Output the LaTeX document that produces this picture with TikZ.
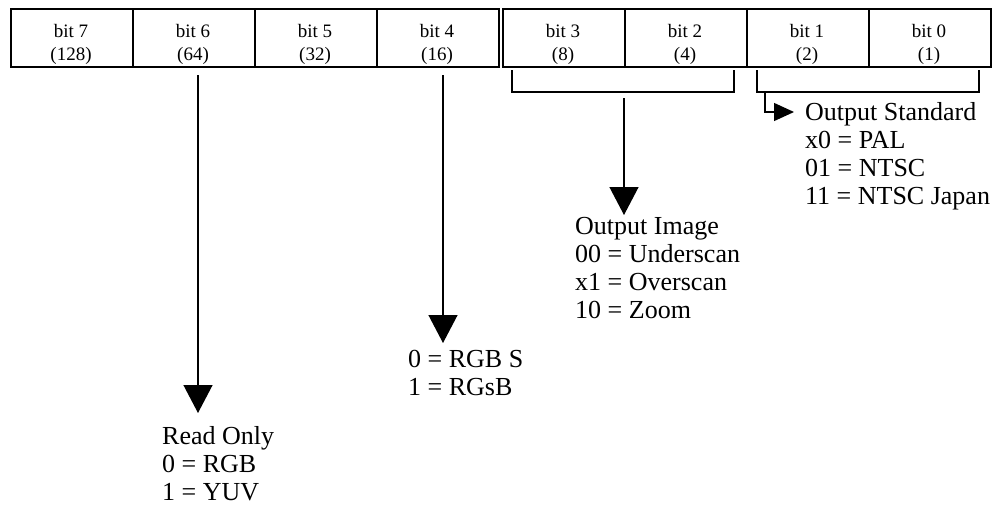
\documentclass[tikz,border=0pt]{standalone}
\usepackage{fontspec}
\setmainfont{Liberation Serif}
\usetikzlibrary{arrows.meta}
\begin{document}
\begin{tikzpicture}[x=1pt,y=-1pt,
  cellbox/.style={draw,line width=1.6pt,minimum width=122pt,minimum height=58pt,inner sep=0pt,anchor=north west},
  celltext/.style={font=\fontsize{19}{23}\selectfont,inner sep=0pt,anchor=base},
  lbl/.style={font=\fontsize{26}{28}\selectfont,align=left,anchor=north west,inner sep=0pt},
  bigarrow/.style={line width=1.3pt,-{Triangle[width=29pt,length=28pt]}},
  smallarrow/.style={line width=1.3pt,-{Triangle[width=18pt,length=20pt]}},
  brk/.style={line width=1.3pt}]
\useasboundingbox (0,0) rectangle (996,509);
% cells
\node[cellbox] (c7) at (10,8) {};
\node[cellbox] (c6) at (132,8) {};
\node[cellbox] (c5) at (254,8) {};
\node[cellbox] (c4) at (376,8) {};
\node[cellbox] (c3) at (502,8) {};
\node[cellbox] (c2) at (624,8) {};
\node[cellbox] (c1) at (746,8) {};
\node[cellbox] (c0) at (868,8) {};
\node[celltext] (t7a) at (71,37) {bit 7};  \node[celltext] (t7b) at (71,60) {(128)};
\node[celltext] (t6a) at (193,37) {bit 6}; \node[celltext] (t6b) at (193,60) {(64)};
\node[celltext] (t5a) at (315,37) {bit 5}; \node[celltext] (t5b) at (315,60) {(32)};
\node[celltext] (t4a) at (437,37) {bit 4}; \node[celltext] (t4b) at (437,60) {(16)};
\node[celltext] (t3a) at (563,37) {bit 3}; \node[celltext] (t3b) at (563,60) {(8)};
\node[celltext] (t2a) at (685,37) {bit 2}; \node[celltext] (t2b) at (685,60) {(4)};
\node[celltext] (t1a) at (807,37) {bit 1}; \node[celltext] (t1b) at (807,60) {(2)};
\node[celltext] (t0a) at (929,37) {bit 0}; \node[celltext] (t0b) at (929,60) {(1)};
% brackets
\coordinate (b1l) at (512,70); \coordinate (b1r) at (734,70);
\coordinate (b2l) at (757,70); \coordinate (b2r) at (979,70);
\draw[brk] (b1l) -- ++(0,22) -| (b1r);
\draw[brk] (b2l) -- ++(0,22) -| (b2r);
% labels
\node[lbl] (ro) at (162,426) {Read Only\\0 = RGB\\1 = YUV};
\node[lbl] (rgb) at (408,350) {0 = RGB S\\1 = RGsB};
\node[lbl] (oi) at (575,217) {Output Image\\00 = Underscan\\x1 = Overscan\\10 = Zoom};
\node[lbl] (os) at (805,102) {Output Standard\\x0 = PAL\\01 = NTSC\\11 = NTSC Japan};
% arrows
\coordinate (s6) at (198,75); \coordinate (e6) at (198,413);
\coordinate (s4) at (443,75); \coordinate (e4) at (443,343);
\coordinate (s32) at (624,98); \coordinate (e32) at (624,215);
\draw[bigarrow] (s6) -- (e6);
\draw[bigarrow] (s4) -- (e4);
\draw[bigarrow] (s32) -- (e32);
\coordinate (s10) at (765,92); \coordinate (e10) at (794,112);
\draw[smallarrow] (s10) |- (e10);
\end{tikzpicture}
\end{document}
